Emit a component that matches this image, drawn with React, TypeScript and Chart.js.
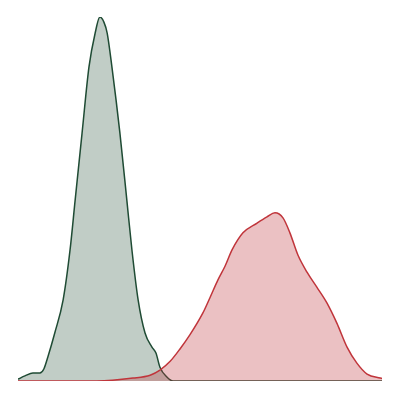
import React, { useEffect, useRef } from "react";
import { Chart, registerables } from "chart.js";

Chart.register(...registerables);

// Density curve A (green): x positions and relative density
const greenX = [0, 0.19, 0.41, 0.6, 0.71, 0.82, 1.01, 1.24, 1.43, 1.57, 1.76, 1.95, 2.12, 2.25, 2.36, 2.45, 2.58, 2.8, 2.99, 3.13, 3.3, 3.49, 3.68, 3.79, 3.9, 4.09, 4.26, 4.45, 10];
const greenY = [0.005, 0.014, 0.022, 0.022, 0.033, 0.066, 0.132, 0.223, 0.36, 0.497, 0.681, 0.863, 0.956, 1.0, 0.986, 0.956, 0.863, 0.681, 0.497, 0.36, 0.223, 0.132, 0.093, 0.077, 0.038, 0.011, 0, 0, 0];

// Density curve B (red)
const redX = [0, 2.17, 3.16, 3.63, 3.9, 4.18, 4.45, 4.73, 5.08, 5.27, 5.49, 5.69, 5.88, 6.18, 6.57, 6.84, 7.06, 7.28, 7.47, 7.69, 7.94, 8.21, 8.49, 8.76, 9.04, 9.31, 9.59, 9.95, 10];
const redY = [0, 0, 0.008, 0.016, 0.03, 0.054, 0.088, 0.128, 0.187, 0.228, 0.277, 0.316, 0.36, 0.407, 0.434, 0.451, 0.462, 0.448, 0.407, 0.346, 0.299, 0.258, 0.214, 0.159, 0.093, 0.049, 0.019, 0.008, 0.007];

const toPoints = (xs: number[], ys: number[]) => xs.map((x, i) => ({ x, y: ys[i] }));

export default function App() {
  const ref = useRef<HTMLCanvasElement | null>(null);

  useEffect(() => {
    document.body.style.margin = "0";
    if (!ref.current) return;
    const chart = new Chart(ref.current, {
      type: "line",
      data: {
        datasets: [
          {
            label: "A",
            data: toPoints(greenX, greenY),
            borderColor: "#1f4b34",
            backgroundColor: "rgba(31,77,52,0.28)",
            borderWidth: 1.5,
            fill: "origin",
            pointRadius: 0,
            cubicInterpolationMode: "monotone",
            order: 2,
          },
          {
            label: "B",
            data: toPoints(redX, redY),
            borderColor: "#c0353b",
            backgroundColor: "rgba(190,50,55,0.3)",
            borderWidth: 1.5,
            fill: "origin",
            pointRadius: 0,
            cubicInterpolationMode: "monotone",
            order: 1,
          },
        ],
      },
      options: {
        animation: false,
        responsive: false,
        maintainAspectRatio: false,
        layout: { padding: { left: 18, right: 18, top: 17, bottom: 19 } },
        plugins: { legend: { display: false }, tooltip: { enabled: false } },
        scales: {
          x: { type: "linear", min: 0, max: 10, display: false },
          y: { min: 0, max: 1, display: false },
        },
      },
    });
    return () => chart.destroy();
  }, []);

  return (
    <div style={{ width: 400, height: 400, background: "#fff" }}>
      <canvas ref={ref} width={400} height={400} style={{ width: 400, height: 400, display: "block" }} />
    </div>
  );
}
